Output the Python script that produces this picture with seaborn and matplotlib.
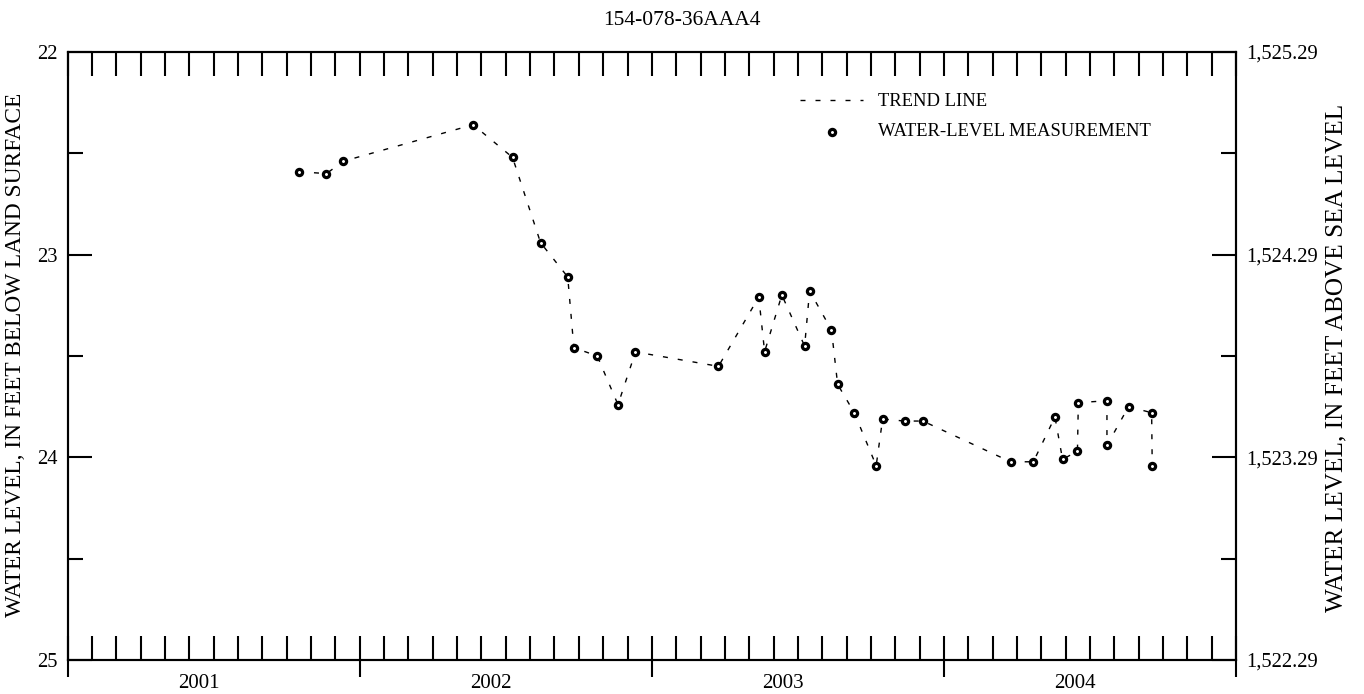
import matplotlib
matplotlib.use('Agg')
import matplotlib.pyplot as plt
import numpy as np
import pandas as pd
import seaborn as sns

# dados (ano decimal, profundidade em pes)
datas = [2001.792, 2001.886, 2001.944, 2002.388, 2002.523, 2002.619, 2002.712,
         2002.733, 2002.813, 2002.884, 2002.944, 2003.228, 2003.366, 2003.386,
         2003.445, 2003.523, 2003.540, 2003.615, 2003.636, 2003.693, 2003.768,
         2003.790, 2003.865, 2003.928, 2004.228, 2004.306, 2004.380, 2004.406,
         2004.457, 2004.460, 2004.558, 2004.558, 2004.632, 2004.711, 2004.713]
nivel = [22.591, 22.600, 22.539, 22.359, 22.520, 22.941, 23.110,
         23.459, 23.500, 23.740, 23.480, 23.551, 23.209, 23.479,
         23.199, 23.451, 23.179, 23.372, 23.640, 23.780, 24.041,
         23.811, 23.821, 23.821, 24.022, 24.022, 23.801, 24.010,
         23.970, 23.730, 23.721, 23.941, 23.750, 23.780, 24.043]

anos = [2001, 2002, 2003, 2004]
ano_labels = ['2001', '2002', '2003', '2004']
prof_ticks = [22, 23, 24, 25]
superficie = 1547.29

titulo = '154-078-36AAA4'
ylabel_esq = 'WATER LEVEL, IN FEET BELOW LAND SURFACE'
ylabel_dir = 'WATER LEVEL, IN FEET ABOVE SEA LEVEL'

sns.set_theme(style='white', rc={'axes.edgecolor': 'black', 'xtick.color': 'black',
                                 'ytick.color': 'black', 'text.color': 'black'})
plt.rcParams['font.family'] = ['Liberation Serif', 'DejaVu Serif']
plt.rcParams['font.size'] = 14.8
plt.rcParams['xtick.labelsize'] = 14.8
plt.rcParams['ytick.labelsize'] = 14.8

df = pd.DataFrame({'data': datas, 'nivel': nivel})

fig = plt.figure(figsize=(13.64, 6.94), dpi=100)
ax = fig.add_axes([0.0496, 0.049, 0.8566, 0.8761])

#linha de tendencia
sns.lineplot(data=df, x='data', y='nivel', sort=False, estimator=None, color='black',
             linewidth=1.0, linestyle=(0, (3.6, 7.2)), ax=ax, label='TREND LINE')
#medicoes
sns.scatterplot(data=df, x='data', y='nivel', marker='o', s=20, color='white',
                edgecolor='black', linewidth=2.3, ax=ax, zorder=3,
                label='WATER-LEVEL MEASUREMENT')

ax.set_xlim(anos[0], anos[-1] + 1)
ax.set_ylim(prof_ticks[-1], prof_ticks[0])
ax.set_xlabel('')
ax.set_ylabel('')

# eixo x: anos (para fora) e meses (para dentro)
ax.set_xticks(np.arange(anos[0], anos[-1] + 2))
ax.set_xticks(np.arange(anos[0], anos[-1] + 1.001, 1 / 12), minor=True)
ax.xaxis.remove_overlapping_locs = False
ax.tick_params(axis='x', which='major', direction='out', length=12, width=1.5,
               top=False, bottom=True, labelbottom=False)
ax.tick_params(axis='x', which='minor', direction='in', length=17, width=1.5,
               top=True, bottom=True)

sec = ax.secondary_xaxis('bottom')
sec.set_xticks(np.array(anos) + 0.45, ano_labels)
sec.tick_params(length=0, pad=10, labelsize=15)
sec.spines['bottom'].set_visible(False)

# eixo y esquerdo
ax.set_yticks(prof_ticks, [str(v) for v in prof_ticks])
ax.set_yticks(np.array(prof_ticks[:-1]) + 0.5, minor=True)
ax.tick_params(axis='y', which='major', direction='in', length=17, width=1.5,
               left=True, right=False, pad=7)
ax.tick_params(axis='y', which='minor', direction='in', length=11, width=1.5,
               left=True, right=False)

# eixo y direito (cota)
ax2 = ax.twinx()
ax2.set_ylim(superficie - prof_ticks[-1], superficie - prof_ticks[0])
cotas = superficie - np.array(prof_ticks)
ax2.set_yticks(cotas, [f'{v:,.2f}' for v in cotas])
ax2.set_yticks(cotas[:-1] - 0.5, minor=True)
ax2.tick_params(axis='y', which='major', direction='in', length=17, width=1.5, pad=7)
ax2.tick_params(axis='y', which='minor', direction='in', length=11, width=1.5)

for a in (ax, ax2):
    for sp in a.spines.values():
        sp.set_linewidth(1.5)
        sp.set_color('black')

ax.legend(loc='upper left', bbox_to_anchor=(0.6268, 0.932), frameon=False,
          borderaxespad=0, borderpad=0, handlelength=3.4, handletextpad=0.8,
          labelspacing=0.7, scatterpoints=1, fontsize=13.4)

fig.text(0.5, 0.970, titulo, ha='center', va='center', fontsize=15.5)
fig.text(0.011, 0.4885, ylabel_esq, rotation=90, ha='center', va='center', fontsize=16.8)
fig.text(0.980, 0.485, ylabel_dir, rotation=90, ha='center', va='center', fontsize=18.2)

fig.savefig('out.png', dpi=100)
